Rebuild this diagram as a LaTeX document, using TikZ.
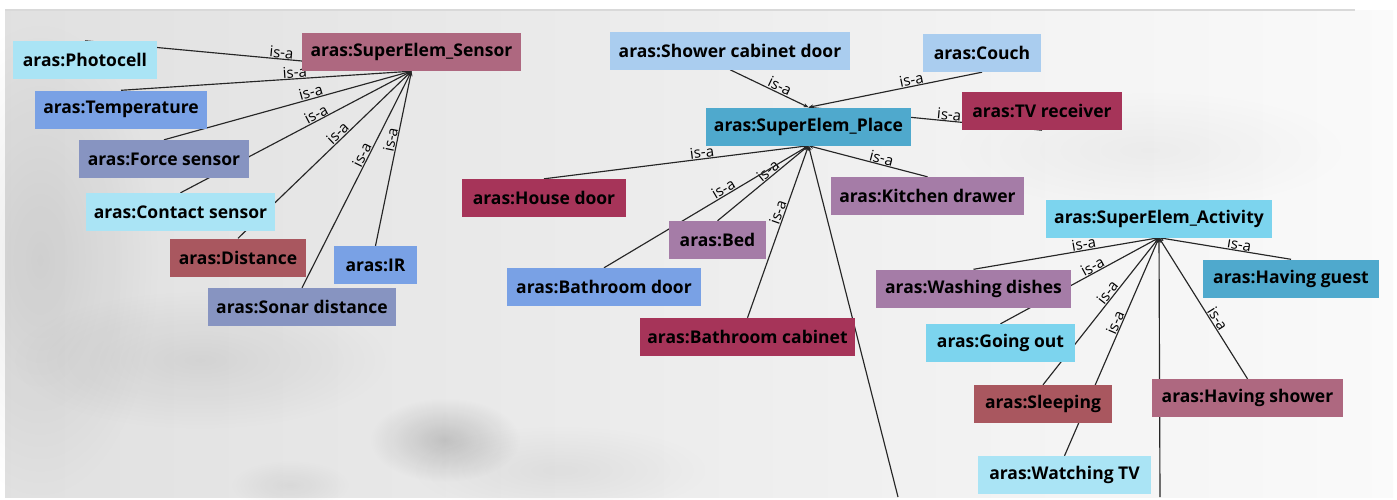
\documentclass[tikz,border=0pt]{standalone}
\usepackage{fontspec}
\setmainfont{Open Sans}
\usetikzlibrary{arrows.meta,fadings}

\pgfdeclarelayer{back}
\pgfdeclarelayer{links}
\pgfsetlayers{back,links,main}

% class colours
\definecolor{cSky}{HTML}{AAE4F5}
\definecolor{cMauve}{HTML}{AE6880}
\definecolor{cCorn}{HTML}{79A1E5}
\definecolor{cSlate}{HTML}{8794C1}
\definecolor{cBrick}{HTML}{A9575F}
\definecolor{cCrimson}{HTML}{A63459}
\definecolor{cPale}{HTML}{AACDEF}
\definecolor{cTeal}{HTML}{4FA9CD}
\definecolor{cLilac}{HTML}{A57CA7}
\definecolor{cCyan}{HTML}{7CD4EE}

\tikzfading[name=softblob, inner color=transparent!0, outer color=transparent!100]

\begin{document}
\begin{tikzpicture}[x=1pt,y=-1pt,
  cls/.style={inner sep=0pt, minimum height=38pt, text=black,
    font=\fontsize{17.5}{20}\selectfont\bfseries},
  link/.style={draw=black!85, line width=1.15pt},
  lbl/.style={font=\fontsize{15}{17}\selectfont, text=black, sloped, above,
    inner sep=0.5pt, pos=0.6},
  tipE/.style={-{Stealth[length=5pt,width=4pt]}},
  tipS/.style={{Stealth[length=5pt,width=4pt]}-},
]
\useasboundingbox (0,0) rectangle (1397,499);

% ---- backdrop ----
\begin{pgfonlayer}{back}
  \fill[white] (0,0) rectangle (1397,499);
  \shade[left color=gray!24, right color=gray!4] (5,10) rectangle (1393,497);
  \fill[black, opacity=0.08, path fading=softblob] (40,260) ellipse (120 and 240);
  \fill[black, opacity=0.07, path fading=softblob] (200,360) ellipse (190 and 70);
  \fill[black, opacity=0.17, path fading=softblob] (445,440) ellipse (75 and 42);
  \fill[black, opacity=0.06, path fading=softblob] (290,485) ellipse (60 and 25);
  \fill[black, opacity=0.05, path fading=softblob] (560,470) ellipse (150 and 45);
  \fill[black, opacity=0.04, path fading=softblob] (1150,150) ellipse (200 and 60);
  \draw[gray!30, line width=1.5pt] (5,10) -- (1355,10);
\end{pgfonlayer}

% ---- sensor classes ----
\node[cls, fill=cMauve, minimum width=219pt] (sensor) at (411.5,52) {aras:SuperElem\_Sensor};
\node[cls, fill=cSky, minimum width=144pt] (photo) at (85,60) {aras:Photocell};
\node[cls, fill=cCorn, minimum width=172pt] (temp) at (121,109.5) {aras:Temperature};
\node[cls, fill=cSlate, minimum width=170pt] (force) at (164,159) {aras:Force sensor};
\node[cls, fill=cSky, minimum width=189pt] (contact) at (180.5,212) {aras:Contact sensor};
\node[cls, fill=cBrick, minimum width=136pt] (dist) at (238,257.5) {aras:Distance};
\node[cls, fill=cCorn, minimum width=83pt] (ir) at (375.5,265) {aras:IR};
\node[cls, fill=cSlate, minimum width=188pt] (sonar) at (302,307) {aras:Sonar distance};

% ---- place classes ----
\node[cls, fill=cTeal, minimum width=205pt] (place) at (808.5,126.5) {aras:SuperElem\_Place};
\node[cls, fill=cPale, minimum width=240pt] (shower) at (730,50.5) {aras:Shower cabinet door};
\node[cls, fill=cPale, minimum width=118pt] (couch) at (982,53) {aras:Couch};
\node[cls, fill=cCrimson, minimum width=160pt] (tv) at (1042,111) {aras:TV receiver};
\node[cls, fill=cCrimson, minimum width=164pt] (house) at (544,198) {aras:House door};
\node[cls, fill=cLilac, minimum width=193pt] (kitchen) at (927.5,196) {aras:Kitchen drawer};
\node[cls, fill=cLilac, minimum width=97pt] (bed) at (717.5,240) {aras:Bed};
\node[cls, fill=cCorn, minimum width=194pt] (bathdoor) at (604,287) {aras:Bathroom door};
\node[cls, fill=cCrimson, minimum width=215pt] (bathcab) at (747.5,337) {aras:Bathroom cabinet};
\coordinate (offP) at (898,497);

% ---- activity classes ----
\node[cls, fill=cCyan, minimum width=226pt] (act) at (1159,218.5) {aras:SuperElem\_Activity};
\node[cls, fill=cLilac, minimum width=195pt] (wash) at (973.5,288.5) {aras:Washing dishes};
\node[cls, fill=cTeal, minimum width=176pt] (guest) at (1291,278.5) {aras:Having guest};
\node[cls, fill=cCyan, minimum width=149pt] (going) at (1000.5,343) {aras:Going out};
\node[cls, fill=cBrick, minimum width=138pt] (sleep) at (1043,404) {aras:Sleeping};
\node[cls, fill=cMauve, minimum width=191pt] (hshower) at (1247.5,398) {aras:Having shower};
\node[cls, fill=cSky, minimum width=173pt] (watch) at (1064.5,475) {aras:Watching TV};
\coordinate (offA) at (1160,497);

% ---- is-a links ----
\begin{pgfonlayer}{links}
  % sensors
  \draw[link, tipE] (photo.north) -- node[lbl]{is-a} (sensor.south);
  \draw[link, tipE] (temp.north) -- node[lbl]{is-a} (sensor.south);
  \draw[link, tipE] (force.north) -- node[lbl]{is-a} (sensor.south);
  \draw[link, tipE] (contact.north) -- node[lbl]{is-a} (sensor.south);
  \draw[link, tipE] (dist.north) -- node[lbl]{is-a} (sensor.south);
  \draw[link, tipE] (sonar.north) -- node[lbl]{is-a} (sensor.south);
  \draw[link, tipE] (ir.north) -- node[lbl]{is-a} (sensor.south);
  % places
  \draw[link, tipE] (shower.south) -- node[lbl]{is-a} (place.north);
  \draw[link, tipS] (place.north) -- node[lbl]{is-a} (couch.south);
  \draw[link, tipS] (place.north) -- node[lbl]{is-a} (tv.south);
  \draw[link, tipE] (house.north) -- node[lbl]{is-a} (place.south);
  \draw[link, tipE] (bed.north) -- node[lbl]{is-a} (place.south);
  \draw[link, tipE] (bathdoor.north) -- node[lbl]{is-a} (place.south);
  \draw[link, tipE] (bathcab.north) -- node[lbl]{is-a} (place.south);
  \draw[link, tipS] (place.south) -- node[lbl]{is-a} (kitchen.north);
  \draw[link, tipS] (place.south) -- (offP);
  % activities
  \draw[link, tipE] (wash.north) -- node[lbl]{is-a} (act.south);
  \draw[link, tipE] (going.north) -- node[lbl]{is-a} (act.south);
  \draw[link, tipE] (sleep.north) -- node[lbl]{is-a} (act.south);
  \draw[link, tipE] (watch.north) -- node[lbl]{is-a} (act.south);
  \draw[link, tipS] (act.south) -- node[lbl]{is-a} (guest.north);
  \draw[link, tipS] (act.south) -- node[lbl]{is-a} (hshower.north);
  \draw[link, tipS] (act.south) -- (offA);
\end{pgfonlayer}
\end{tikzpicture}
\end{document}
